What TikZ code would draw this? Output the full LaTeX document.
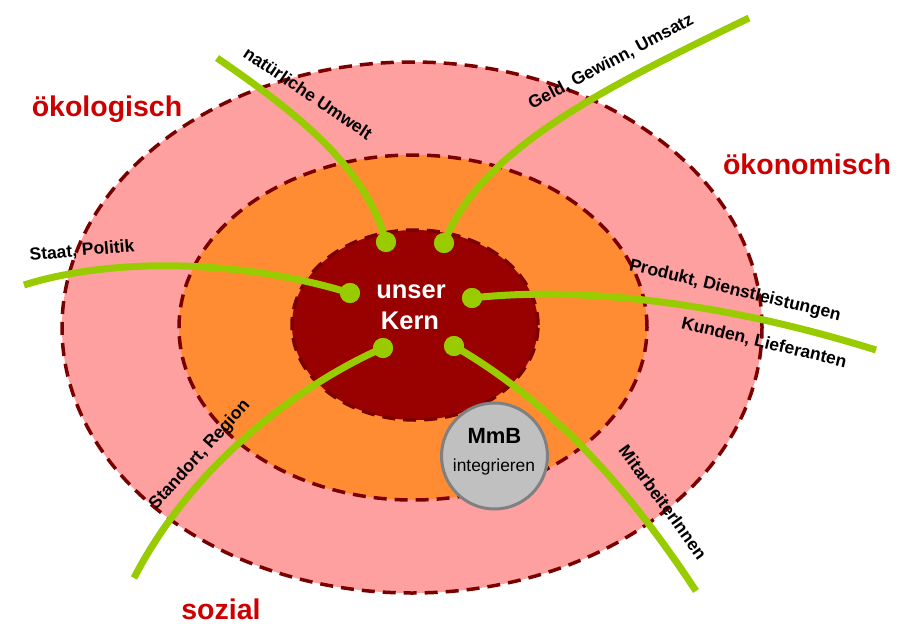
\documentclass[tikz,border=0pt]{standalone}
\usepackage{fontspec}
\setmainfont{Liberation Sans}
\definecolor{pinkfill}{HTML}{FFA0A0}
\definecolor{orangefill}{HTML}{FF8C33}
\definecolor{corefill}{HTML}{990000}
\definecolor{ringline}{HTML}{7A0000}
\definecolor{linkgreen}{HTML}{99CC00}
\definecolor{dimred}{HTML}{CC0000}
\definecolor{mmbfill}{HTML}{C0C0C0}
\definecolor{mmbline}{HTML}{808080}
\begin{document}
\begin{tikzpicture}[x=1pt,y=-1pt,
  ring/.style={draw=ringline, line width=3.5pt, dash pattern=on 13pt off 8pt},
  link/.style={draw=linkgreen, line width=7pt},
  dot/.style={circle, fill=linkgreen, inner sep=0pt, minimum size=20pt},
  lbl/.style={font=\bfseries\fontsize{17.5}{20}\selectfont, inner sep=0pt},
  dimlbl/.style={font=\bfseries\fontsize{28.5}{32}\selectfont, text=dimred, anchor=base, inner sep=0pt},
  corelbl/.style={font=\bfseries\fontsize{25.5}{30}\selectfont, text=white, anchor=base, inner sep=0pt}]
\useasboundingbox (0,0) rectangle (903,624);

% rings
\path[ring, fill=pinkfill] (412,327.5) ellipse [x radius=350pt, y radius=265.5pt];
\path[ring, fill=orangefill] (413,327.5) ellipse [x radius=234pt, y radius=172.5pt];
\path[ring, fill=corefill] (415,325) ellipse [x radius=123pt, y radius=95pt];

% free ends
\coordinate (n0) at (217,58);
\coordinate (g0) at (749,18);
\coordinate (s0) at (24,285);
\coordinate (p0) at (876,350);
\coordinate (r0) at (134,578);
\coordinate (m0) at (696,591);

% dots
\node[dot] (d1) at (386,242) {};
\node[dot] (d2) at (444,243) {};
\node[dot] (d3) at (350,293) {};
\node[dot] (d4) at (472,298) {};
\node[dot] (d5) at (383,348) {};
\node[dot] (d6) at (454,346) {};

% connectors
\draw[link] (n0) .. controls (300,115) and (366,168) .. (d1.center);
\draw[link] (g0) .. controls (600,90) and (480,150) .. (d2.center);
\draw[link] (s0) .. controls (120,255) and (250,262) .. (d3.center);
\draw[link] (d4.center) .. controls (560,288) and (700,295) .. (p0);
\draw[link] (d5.center) .. controls (320,375) and (200,450) .. (r0);
\draw[link] (d6.center) .. controls (530,390) and (610,460) .. (m0);

% redraw dots on top
\node[dot] at (d1) {};
\node[dot] at (d2) {};
\node[dot] at (d3) {};
\node[dot] at (d4) {};
\node[dot] at (d5) {};
\node[dot] at (d6) {};

% labels
\node[lbl, rotate=-34] (tn) at (308,93) {natürliche Umwelt};
\node[lbl, rotate=28] (tg) at (611,62) {Geld, Gewinn, Umsatz};
\node[lbl, rotate=5] (ts) at (82,251) {Staat, Politik};
\node[lbl, rotate=-13.5] (tp) at (735,291) {Produkt, Dienstleistungen};
\node[lbl, rotate=-13.5] (tk) at (764,343) {Kunden, Lieferanten};
\node[lbl, rotate=48] (tr) at (200,455) {Standort, Region};
\node[lbl, rotate=-54] (tm) at (663,502) {MitarbeiterInnen};

% dimension labels
\node[dimlbl] (oek) at (107,116) {ökologisch};
\node[dimlbl] (oen) at (807,174) {ökonomisch};
\node[dimlbl] (soz) at (221,619) {sozial};

% core
\node[corelbl] (k1) at (411,298) {unser};
\node[corelbl] (k2) at (410,329) {Kern};

% MmB
\node[circle, fill=mmbfill, draw=mmbline, line width=3pt, minimum size=106pt, inner sep=0pt] (mmb) at (494.5,456) {};
\node[font=\bfseries\fontsize{22}{26}\selectfont, anchor=base, inner sep=0pt] (mmbt) at (494.5,443) {MmB};
\node[font=\fontsize{17.4}{20}\selectfont, anchor=base, inner sep=0pt] (mmbi) at (494,471) {integrieren};
\end{tikzpicture}
\end{document}
